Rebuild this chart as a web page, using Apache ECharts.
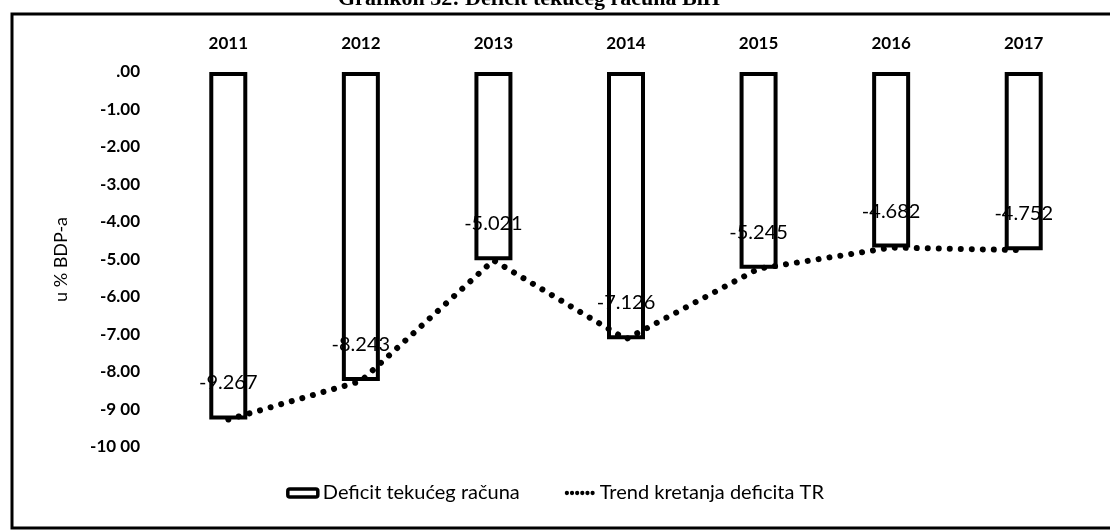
<!DOCTYPE html>
<html>
<head>
<meta charset="utf-8">
<script src="https://cdn.jsdelivr.net/npm/echarts@6/dist/echarts.min.js"></script>
<style>
html,body{margin:0;padding:0;background:#fff;}
#chart{width:1110px;height:530px;}
</style>
</head>
<body>
<div id="chart"></div>
<script>
const titleText = 'Grafikon 32: Deficit tekućeg računa BiH';
const years = ['2011','2012','2013','2014','2015','2016','2017'];
const deficit = [-9.267, -8.243, -5.021, -7.126, -5.245, -4.682, -4.752];
const trend = [-9.267, -8.243, -5.021, -7.126, -5.245, -4.682, -4.752];
const yTickLabels = ['.00','-1.00','-2.00','-3.00','-4.00','-5.00','-6.00','-7.00','-8.00','-9 00','-10 00'];
const yAxisName = 'u % BDP-a';
const seriesNames = ['Deficit tekućeg računa', 'Trend kretanja deficita TR'];

const font = 'Lato, "Open Sans", sans-serif';
const dotIcon = 'path://M0,2.5a2.5,2.5 0 1,0 5,0a2.5,2.5 0 1,0 -5,0M6,2.5a2.5,2.5 0 1,0 5,0a2.5,2.5 0 1,0 -5,0M12,2.5a2.5,2.5 0 1,0 5,0a2.5,2.5 0 1,0 -5,0M18,2.5a2.5,2.5 0 1,0 5,0a2.5,2.5 0 1,0 -5,0M24,2.5a2.5,2.5 0 1,0 5,0a2.5,2.5 0 1,0 -5,0M30,2.5a2.5,2.5 0 1,0 5,0a2.5,2.5 0 1,0 -5,0';
const chart = echarts.init(document.getElementById('chart'), null, {renderer:'canvas'});
chart.setOption({
  animation: false,
  backgroundColor: '#fff',
  title: {
    text: titleText,
    left: 333,
    top: -17,
    textStyle: {fontFamily: '"Liberation Serif", serif', fontWeight: 'bold', fontSize: 22, color: '#000'}
  },
  graphic: [{
    type: 'rect',
    shape: {x: 12, y: 14, width: 1130, height: 514},
    style: {fill: 'none', stroke: '#000', lineWidth: 3},
    silent: true, z: 0
  }],
  legend: {
    bottom: 22,
    left: 'center',
    itemGap: 45,
    itemWidth: 30,
    itemHeight: 8,
    textStyle: {fontFamily: font, fontSize: 20, color: '#000'},
    data: [
      {name: seriesNames[0], itemStyle: {color: '#fff', borderColor: '#000', borderWidth: 3.5}},
      {name: seriesNames[1], icon: dotIcon, itemStyle: {color: '#000', borderWidth: 0}, itemWidth: 35, itemHeight: 5}
    ]
  },
  grid: {left: 162, right: 20, top: 72, bottom: 83, containLabel: false},
  xAxis: {
    type: 'category',
    data: years,
    position: 'top',
    axisLine: {show: false},
    axisTick: {show: false},
    axisLabel: {margin: 20, fontFamily: font, fontSize: 17, fontWeight: 'bold', color: '#000'}
  },
  yAxis: {
    type: 'value',
    min: -10, max: 0, interval: 1,
    name: yAxisName,
    nameLocation: 'middle',
    nameGap: 92,
    nameRotate: 90,
    nameTextStyle: {fontFamily: font, fontSize: 18, color: '#000'},
    axisLine: {show: false},
    axisTick: {show: false},
    splitLine: {show: false},
    axisLabel: {
      margin: 22, fontFamily: font, fontSize: 17, fontWeight: 'bold', color: '#000',
      formatter: v => yTickLabels[Math.round(-v)]
    }
  },
  series: [
    {
      name: seriesNames[0],
      type: 'bar',
      data: deficit,
      barWidth: 38,
      itemStyle: {color: '#fff', borderColor: '#000', borderWidth: 4},
      z: 2
    },
    {
      name: seriesNames[1],
      type: 'line',
      data: trend,
      symbol: 'circle',
      symbolSize: 1,
      showSymbol: true,
      itemStyle: {color: 'rgba(0,0,0,0)'},
      lineStyle: {color: '#000', width: 6, type: [0.01, 11], cap: 'round'},
      label: {
        show: true, position: 'top', distance: 26,
        fontFamily: font, fontSize: 20, color: '#000',
        formatter: p => String(p.value)
      },
      labelLayout: {hideOverlap: false},
      z: 3
    }
  ]
});
</script>
</body>
</html>
